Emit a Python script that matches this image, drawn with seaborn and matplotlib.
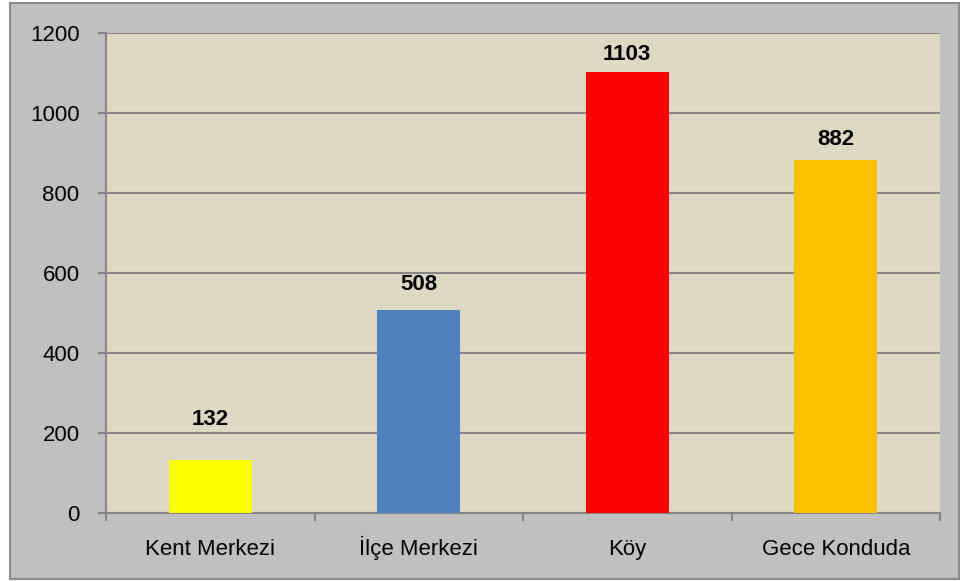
import pandas as pd
import seaborn as sns
import matplotlib.pyplot as plt
from matplotlib.patches import Rectangle

# Data
categories = ["Kent Merkezi", "İlçe Merkezi", "Köy", "Gece Konduda"]
values = [132, 508, 1103, 882]
colors = ["#FFFF00", "#4F81BD", "#FF0000", "#FFC000"]
# label gap above each bar (points), as placed in the original
label_gap = [22, 11, 5, 7]

df = pd.DataFrame({"Yer": categories, "Sayi": values})

sns.set_style("white")
plt.rcParams["font.family"] = ["Liberation Sans", "DejaVu Sans"]
plt.rcParams["text.color"] = "black"
plt.rcParams["xtick.color"] = "black"
plt.rcParams["ytick.color"] = "black"

fig = plt.figure(figsize=(9.6, 5.81), dpi=100)
fig.patch.set_facecolor("white")
# gray chart area with border
fig.patches.append(Rectangle((10 / 960, 2 / 581), 949 / 960, 576 / 581,
                             transform=fig.transFigure, facecolor="#C0C0C0",
                             edgecolor="#8C8C8C", linewidth=1.5, zorder=-5))

ax = fig.add_axes([106 / 960, (581 - 513) / 581, (940 - 106) / 960, (513 - 33) / 581])
ax.set_facecolor("#DDD9C3")

sns.barplot(data=df, x="Yer", y="Sayi", hue="Yer", palette=colors,
            width=0.4, legend=False, ax=ax, saturation=1, linewidth=0, zorder=3)

ax.set_ylim(0, 1200)
ax.set_xlim(-0.5, 3.5)
ax.set_yticks(range(0, 1201, 200))
ax.yaxis.grid(True, color="#868686", linewidth=1.5, zorder=0)
ax.set_axisbelow(True)

for i, v in enumerate(values):
    ax.annotate(str(v), (i, v), xytext=(0, label_gap[i]), textcoords="offset points",
                ha="center", va="bottom", fontsize=16, fontweight="bold", color="black")

ax.set_xlabel("")
ax.set_ylabel("")
ax.tick_params(axis="x", which="major", bottom=False, length=0, pad=30, labelsize=16, labelcolor="black")
for lbl in ax.get_xticklabels():
    lbl.set_verticalalignment("baseline")
ax.set_xticks([-0.5, 0.5, 1.5, 2.5, 3.5], minor=True)
ax.tick_params(axis="x", which="minor", bottom=True, length=6, width=1.5, color="#868686", direction="out")
ax.tick_params(axis="y", left=True, length=6, width=1.5, color="#868686", direction="out",
               labelsize=16, pad=13, labelcolor="black")

for side in ["top", "right"]:
    ax.spines[side].set_visible(False)
for side in ["left", "bottom"]:
    ax.spines[side].set_color("#868686")
    ax.spines[side].set_linewidth(1.5)

fig.savefig("out.png", dpi=100)
